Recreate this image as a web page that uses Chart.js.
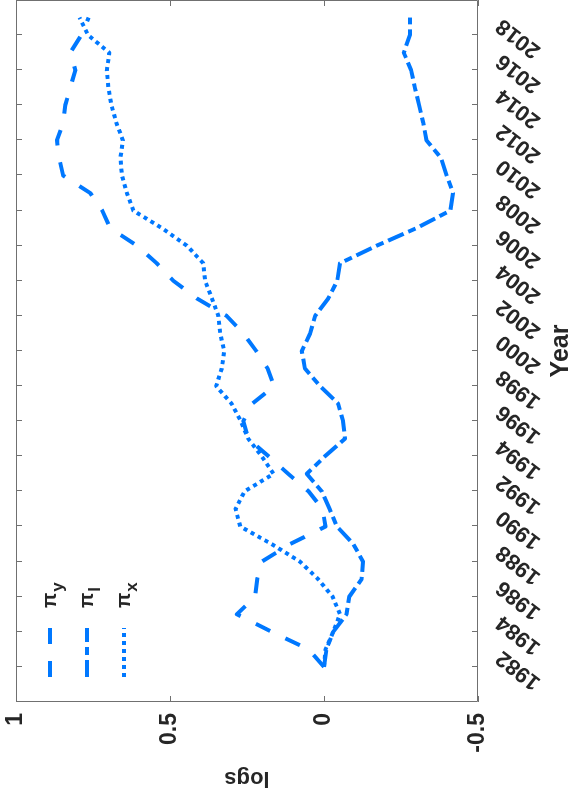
<!DOCTYPE html>
<html>
<head>
<meta charset="utf-8">
<script src="https://cdn.jsdelivr.net/npm/chart.js@4.4.1/dist/chart.umd.min.js"></script>
<style>
  html, body { margin: 0; padding: 0; background: #fff; }
  #page { position: relative; width: 571px; height: 798px; overflow: hidden; }
  /* the figure is drawn upright, then turned a quarter turn to the left */
  #turn { position: absolute; left: 0; top: 0; width: 798px; height: 571px;
          transform-origin: 0 0; transform: translateY(798px) rotate(-90deg); }
</style>
</head>
<body>
<div id="page"><div id="turn"><canvas id="logsChart" width="798" height="571"></canvas></div></div>
<script>
const years = [1982, 1983, 1984, 1985, 1986, 1987, 1988, 1989, 1990, 1991,
               1992, 1993, 1994, 1995, 1996, 1997, 1998, 1999, 2000, 2001,
               2002, 2003, 2004, 2005, 2006, 2007, 2008, 2009, 2010, 2011,
               2012, 2013, 2014, 2015, 2016, 2017, 2018, 2019];

const piY = [0.0, 0.05, 0.17, 0.283, 0.224, 0.217, 0.202, 0.11, -0.005, 0.005,
             0.05, 0.116, 0.18, 0.246, 0.262, 0.233, 0.162, 0.183, 0.22, 0.262,
             0.316, 0.413, 0.489, 0.543, 0.607, 0.694, 0.72, 0.759, 0.847, 0.86,
             0.867, 0.847, 0.84, 0.824, 0.807, 0.824, 0.788, 0.764];

const piL = [0.0, -0.008, -0.03, -0.073, -0.082, -0.122, -0.127, -0.095, -0.042, -0.018,
             0.007, 0.056, -0.003, -0.068, -0.062, -0.046, 0.013, 0.062, 0.072, 0.045,
             0.029, -0.014, -0.043, -0.052, -0.171, -0.30, -0.41, -0.419, -0.398, -0.38,
             -0.333, -0.322, -0.309, -0.295, -0.283, -0.259, -0.279, -0.279];

const piX = [0.0, -0.005, -0.03, -0.052, -0.028, 0.019, 0.078, 0.17, 0.272, 0.287,
             0.258, 0.164, 0.202, 0.246, 0.27, 0.30, 0.35, 0.332, 0.324, 0.337,
             0.343, 0.364, 0.386, 0.392, 0.445, 0.526, 0.619, 0.64, 0.656, 0.661,
             0.653, 0.674, 0.69, 0.70, 0.705, 0.697, 0.766, 0.794];

const yearTicks = [1982, 1984, 1986, 1988, 1990, 1992, 1994, 1996, 1998, 2000,
                   2002, 2004, 2006, 2008, 2010, 2012, 2014, 2016, 2018];
const logTicks = [-0.5, 0, 0.5, 1];
const legendSubs = ['y', 'l', 'x'];

const blue = '#0078ff';
const ink = '#262626';
const fam = '"Liberation Sans", Arial, Helvetica, sans-serif';

function points(vals) {
    return years.map((yr, i) => ({x: yr, y: vals[i]}));
}

// box with inward ticks on all four sides, like the matlab axes
const boxTicks = {
    id: 'boxTicks',
    afterDraw(chart) {
        const {ctx, chartArea: a, scales: {x, y}} = chart;
        ctx.save();
        ctx.strokeStyle = '#707070';
        ctx.lineWidth = 1;
        ctx.setLineDash([]);
        ctx.beginPath();
        ctx.rect(a.left + 0.5, a.top + 0.5, a.right - a.left - 1, a.bottom - a.top - 1);
        yearTicks.forEach(v => {
            const p = Math.round(x.getPixelForValue(v)) + 0.5;
            ctx.moveTo(p, a.bottom); ctx.lineTo(p, a.bottom - 6);
            ctx.moveTo(p, a.top); ctx.lineTo(p, a.top + 6);
        });
        logTicks.forEach(v => {
            const p = Math.round(y.getPixelForValue(v)) + 0.5;
            ctx.moveTo(a.left, p); ctx.lineTo(a.left + 6, p);
            ctx.moveTo(a.right, p); ctx.lineTo(a.right - 6, p);
        });
        ctx.stroke();

        // legend, no frame
        chart.data.datasets.forEach((ds, i) => {
            const yy = a.top + 34 + 37 * i;
            ctx.strokeStyle = ds.borderColor;
            ctx.lineWidth = ds.borderWidth;
            ctx.lineCap = 'butt';
            ctx.setLineDash(ds.borderDash);
            ctx.beginPath();
            ctx.moveTo(a.left + 25, yy);
            ctx.lineTo(a.left + 74, yy);
            ctx.stroke();
            ctx.setLineDash([]);
            ctx.fillStyle = ink;
            ctx.textBaseline = 'middle';
            ctx.textAlign = 'left';
            ctx.font = 'bold 20px ' + fam;
            ctx.fillText('π', a.left + 94, yy);
            const w = ctx.measureText('π').width;
            ctx.font = 'bold 17px ' + fam;
            ctx.fillText(legendSubs[i], a.left + 95 + w, yy + 8);
        });
        ctx.restore();
    }
};

new Chart(document.getElementById('logsChart'), {
    type: 'line',
    data: {
        datasets: [{
            label: 'π_y',
            data: points(piY),
            borderColor: blue,
            borderWidth: 4,
            borderDash: [16, 17],
        }, {
            label: 'π_l',
            data: points(piL),
            borderColor: blue,
            borderWidth: 4,
            borderDash: [17, 5, 8, 5],
        }, {
            label: 'π_x',
            data: points(piX),
            borderColor: blue,
            borderWidth: 4,
            borderDash: [4, 4],
        }],
    },
    options: {
        responsive: false,
        animation: false,
        devicePixelRatio: 1,
        layout: { padding: { top: 16, right: 0, left: 0, bottom: 0 } },
        elements: {
            point: { radius: 0 },
            line: { tension: 0, fill: false, borderCapStyle: 'butt', borderJoinStyle: 'round' }
        },
        plugins: {
            legend: { display: false },
            tooltip: { enabled: false },
        },
        scales: {
            x: {
                type: 'linear',
                min: 1980,
                max: 2020,
                afterBuildTicks: s => { s.ticks = yearTicks.map(v => ({value: v})); },
                afterFit: s => { s.height = 93; s.paddingLeft = 0; s.paddingRight = 0; },
                grid: { display: false, drawTicks: false },
                border: { display: false },
                ticks: {
                    autoSkip: false,
                    minRotation: 52,
                    maxRotation: 52,
                    padding: 13,
                    labelOffset: 12,
                    color: ink,
                    font: { family: fam, size: 22, weight: 'bold' },
                    callback: v => String(v)
                },
                title: {
                    display: true,
                    text: 'Year',
                    color: ink,
                    padding: 0,
                    font: { family: fam, size: 25, weight: 'bold', lineHeight: 0.8 }
                }
            },
            y: {
                min: -0.5,
                max: 1,
                afterBuildTicks: s => { s.ticks = logTicks.map(v => ({value: v})); },
                afterFit: s => { s.width = 96; s.paddingTop = 0; s.paddingBottom = 0; },
                grid: { display: false, drawTicks: false },
                border: { display: false },
                ticks: {
                    padding: 11,
                    color: ink,
                    font: { family: fam, size: 23, weight: 'bold' },
                    callback: v => String(v)
                },
                title: {
                    display: true,
                    text: 'logs',
                    color: ink,
                    padding: { top: 7, bottom: 0 },
                    font: { family: fam, size: 22, weight: 'bold' }
                }
            }
        }
    },
    plugins: [boxTicks]
});
</script>
</body>
</html>
